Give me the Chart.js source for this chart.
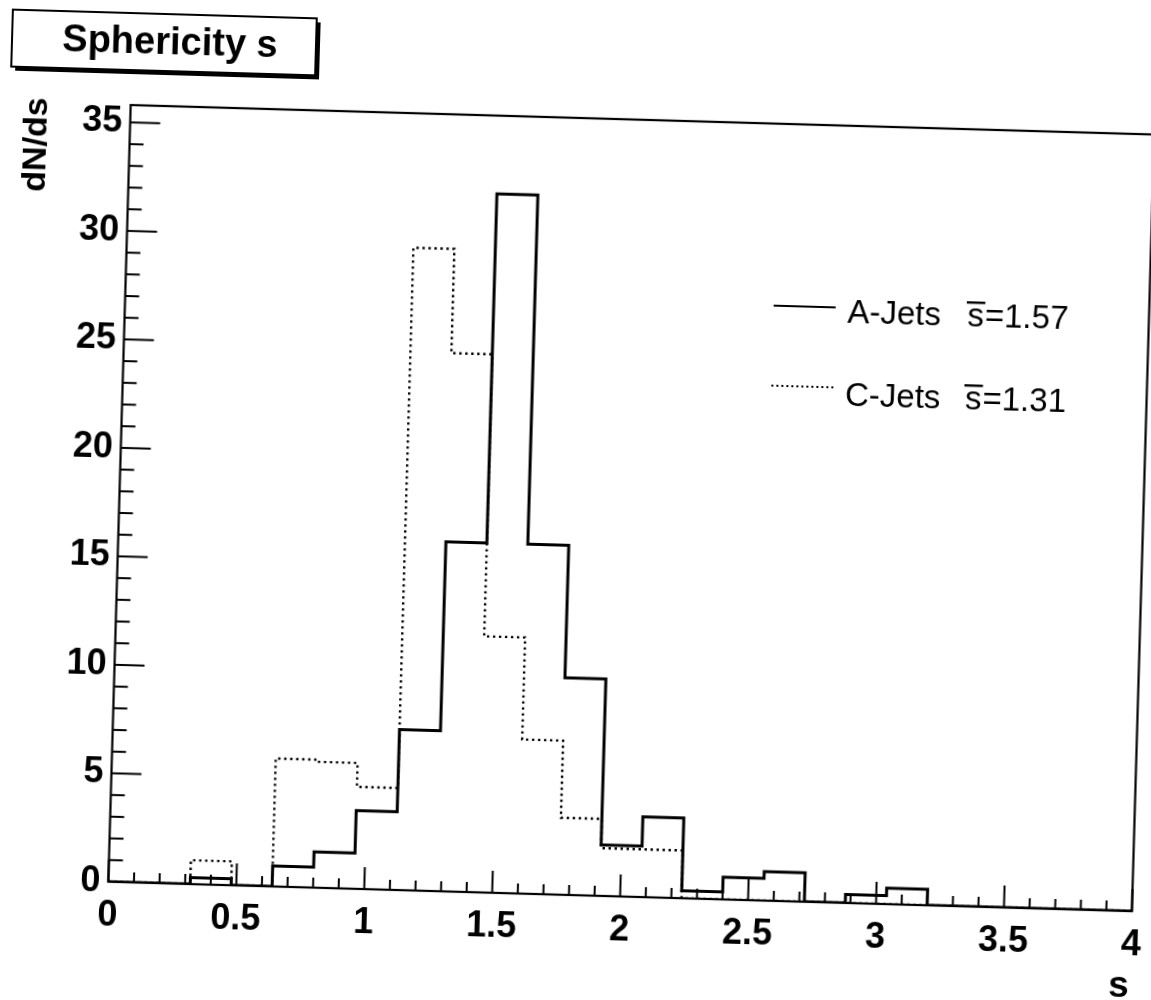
<!DOCTYPE html>
<html>
<head>
<meta charset="utf-8">
<script src="https://cdn.jsdelivr.net/npm/chart.js@4.4.1/dist/chart.umd.min.js"></script>
<style>
html, body { margin: 0; padding: 0; background: #fff; overflow: hidden; }
#wrap { position: relative; width: 1151px; height: 1000px; overflow: hidden; background: #fff; }
#c { position: absolute; left: -20px; top: -20px; width: 1191px; height: 1040px;
     transform-origin: 595px 520px; transform: rotate(1.65deg); }
</style>
</head>
<body>
<div id="wrap"><canvas id="c" width="1191" height="1040"></canvas></div>
<script>
// ---- data ----
const binEdges = [0, 0.16, 0.32, 0.48, 0.64, 0.8, 0.96, 1.12, 1.28, 1.44, 1.6, 1.76, 1.92,
                  2.08, 2.24, 2.4, 2.56, 2.72, 2.88, 3.04, 3.2, 3.36, 3.52, 3.68, 3.84, 4.0];
const aJets = [0, 0, 0.3, 0, 0.95, 1.65, 3.6, 7.4, 16.1, 32.2, 16.1, 10.0, 2.35,
               3.7, 0.35, 1.03, 1.34, 0, 0.39, 0.74, 0, 0, 0, 0, 0];
const cJets = [0, 0, 1.1, 0, 5.9, 5.8, 4.7, 29.6, 24.8, 11.8, 7.1, 3.55, 2.2,
               2.2, 0, 0, 0, 0, 0, 0, 0, 0, 0, 0, 0];
const seriesNames = ['A-Jets', 'C-Jets'];
const seriesMeans = ['1.57', '1.31'];
const xTickValues = [0, 0.5, 1, 1.5, 2, 2.5, 3, 3.5, 4];
const xTickLabels = ['0', '0.5', '1', '1.5', '2', '2.5', '3', '3.5', '4'];
const yTickValues = [0, 5, 10, 15, 20, 25, 30, 35];
const yTickLabels = ['0', '5', '10', '15', '20', '25', '30', '35'];
const chartTitle = 'Sphericity s';
const xTitle = 's';
const yTitle = 'dN/ds';

const FONT = '"Liberation Sans", Arial, Helvetica, sans-serif';

function toSteps(vals) {
  const pts = vals.map((v, i) => ({ x: binEdges[i], y: v }));
  pts.push({ x: binEdges[binEdges.length - 1], y: 0 });
  return pts;
}

const decor = {
  id: 'decor',
  beforeDraw(chart) {
    const ctx = chart.ctx;
    ctx.save();
    ctx.fillStyle = '#fff';
    ctx.fillRect(0, 0, chart.width, chart.height);
    ctx.restore();
  },
  afterDatasetsDraw(chart) {
    const ctx = chart.ctx;
    const a = chart.chartArea;
    const xs = chart.scales.x, ys = chart.scales.y;
    ctx.save();
    ctx.strokeStyle = '#000';
    ctx.fillStyle = '#000';
    ctx.lineCap = 'butt';

    // frame
    ctx.lineWidth = 2.2;
    ctx.strokeRect(a.left, a.top, a.right - a.left, a.bottom - a.top);

    // inside ticks, y
    ctx.lineWidth = 2;
    for (let v = 0; v <= 35; v++) {
      const py = ys.getPixelForValue(v);
      const len = (v % 5 === 0) ? 30 : 14;
      ctx.beginPath(); ctx.moveTo(a.left, py); ctx.lineTo(a.left + len, py); ctx.stroke();
    }
    // inside ticks, x
    for (let i = 0; i <= 40; i++) {
      const px = xs.getPixelForValue(i / 10);
      const len = (i % 5 === 0) ? 22 : 10;
      ctx.beginPath(); ctx.moveTo(px, a.bottom); ctx.lineTo(px, a.bottom - len); ctx.stroke();
    }

    // title box with shadow
    const bx = 19, by = 46, bw = 304, bh = 57;
    ctx.fillStyle = '#fff';
    ctx.fillRect(bx, by, bw, bh);
    ctx.fillStyle = '#000';
    ctx.lineWidth = 2;
    ctx.strokeRect(bx, by, bw, bh);
    ctx.fillRect(bx + bw, by + 4, 4, bh);
    ctx.fillRect(bx + 4, by + bh, bw, 4);
    ctx.font = 'bold 38px ' + FONT;
    ctx.textAlign = 'center';
    ctx.textBaseline = 'alphabetic';
    ctx.fillText(chartTitle, 177, 86);

    // y axis title
    ctx.save();
    ctx.translate(47, 133);
    ctx.rotate(-Math.PI / 2);
    ctx.font = 'bold 34px ' + FONT;
    ctx.textAlign = 'right';
    ctx.textBaseline = 'middle';
    ctx.fillText(yTitle, 0, 0);
    ctx.restore();

    // x axis title
    ctx.font = 'bold 37px ' + FONT;
    ctx.textAlign = 'right';
    ctx.textBaseline = 'alphabetic';
    ctx.fillText(xTitle, a.right - 1, 1001);

    // legend
    const rows = [
      { lineY: 320, base: 335, dash: [], lw: 2.2 },
      { lineY: 400, base: 418, dash: [2, 3], lw: 2 }
    ];
    ctx.font = '33px ' + FONT;
    ctx.textAlign = 'left';
    rows.forEach((r, i) => {
      ctx.save();
      ctx.lineWidth = r.lw;
      ctx.setLineDash(r.dash);
      ctx.beginPath(); ctx.moveTo(788, r.lineY); ctx.lineTo(850, r.lineY); ctx.stroke();
      ctx.restore();
      ctx.fillText(seriesNames[i], 862, r.base);
      const sx = 982;
      ctx.fillText('s', sx, r.base);
      const sw = ctx.measureText('s').width;
      ctx.fillRect(sx - 1, r.base - 25, sw + 2, 2.4);
      ctx.fillText('=' + seriesMeans[i], sx + sw + 1, r.base);
    });
    ctx.restore();
  }
};

new Chart(document.getElementById('c'), {
  type: 'line',
  data: {
    datasets: [
      {
        label: seriesNames[0],
        data: toSteps(aJets),
        borderColor: '#000',
        borderWidth: 3,
        stepped: true,
        pointRadius: 0,
        fill: false
      },
      {
        label: seriesNames[1],
        data: toSteps(cJets),
        borderColor: '#000',
        borderWidth: 2.4,
        borderDash: [2.4, 3.6],
        stepped: true,
        pointRadius: 0,
        fill: false
      }
    ]
  },
  options: {
    responsive: false,
    devicePixelRatio: 1,
    animation: false,
    layout: { padding: { left: 0, top: 138, right: 27.5, bottom: 0 } },
    plugins: { legend: { display: false }, tooltip: { enabled: false }, title: { display: false } },
    scales: {
      x: {
        type: 'linear',
        min: 0, max: 4,
        grid: { display: false, drawTicks: false },
        border: { display: false },
        afterBuildTicks: (s) => { s.ticks = xTickValues.map(v => ({ value: v })); },
        afterFit: (s) => { s.height = 125; },
        ticks: {
          autoSkip: false, maxRotation: 0, padding: 12, color: '#000',
          font: { family: FONT, size: 36, weight: 'bold' },
          callback: (v, i) => xTickLabels[i]
        }
      },
      y: {
        type: 'linear',
        min: 0, max: 35.8,
        grid: { display: false, drawTicks: false },
        border: { display: false },
        afterBuildTicks: (s) => { s.ticks = yTickValues.map(v => ({ value: v })); },
        afterFit: (s) => { s.width = 139.5; },
        ticks: {
          autoSkip: false, padding: 8, color: '#000',
          font: { family: FONT, size: 36, weight: 'bold' },
          callback: (v, i) => yTickLabels[i]
        }
      }
    }
  },
  plugins: [decor]
});
</script>
</body>
</html>
